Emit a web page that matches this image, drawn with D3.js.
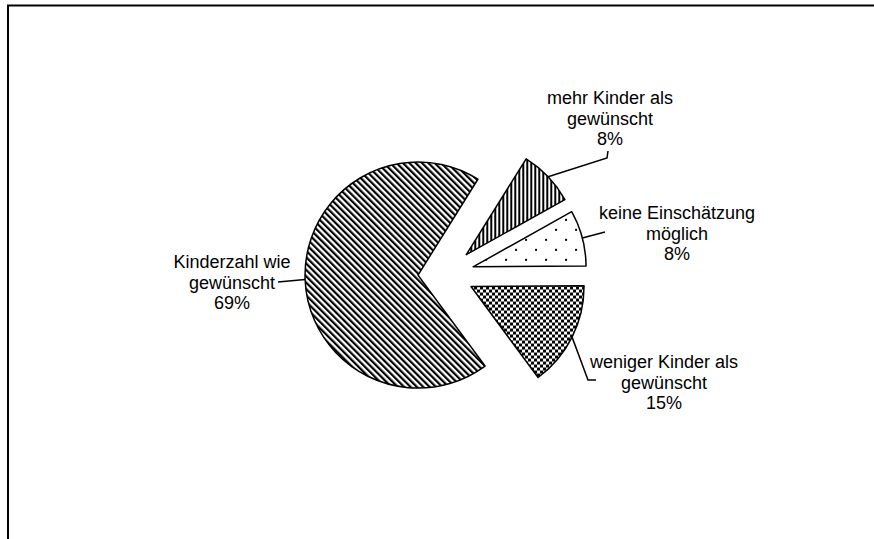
<!DOCTYPE html>
<html>
<head>
<meta charset="utf-8">
<script src="https://cdn.jsdelivr.net/npm/d3@7"></script>
<style>
  body { margin: 0; background: #fff; }
  text { font-family: "Liberation Sans", Arial, sans-serif; font-size: 18px; fill: #000; }
</style>
</head>
<body>
<svg id="chart" width="874" height="539"></svg>
<script>
/* Data */
const categories = ["mehr Kinder als gewünscht", "keine Einschätzung möglich", "weniger Kinder als gewünscht", "Kinderzahl wie gewünscht"];
const labelLines = [
  ["mehr Kinder als", "gewünscht", "8%"],
  ["keine Einschätzung", "möglich", "8%"],
  ["weniger Kinder als", "gewünscht", "15%"],
  ["Kinderzahl wie", "gewünscht", "69%"]
];
const shares = [8, 8, 15, 69];

/* Layout (label anchors and leader bends, in page pixels) */
const labelPos = [
  { x: 610, y: 104, leader: [[607, 158], [608, 151]] },
  { x: 677, y: 219, leader: [[605, 232]] },
  { x: 664, y: 368, leader: [[588, 380], [596, 380]] },
  { x: 232, y: 268, leader: [[278, 282]] }
];
const patternIds = ["vstripe", "dots", "checker", "diag"];

const svg = d3.select("#chart");

/* Frame */
svg.append("rect")
    .attr("x", 8).attr("y", 5.5)
    .attr("width", 900).attr("height", 600)
    .attr("fill", "none")
    .attr("stroke", "#000")
    .attr("stroke-width", 2);

/* Fill patterns */
const defs = svg.append("defs");

const vs = defs.append("pattern").attr("id", "vstripe")
    .attr("patternUnits", "userSpaceOnUse").attr("width", 4).attr("height", 4);
vs.append("rect").attr("width", 4).attr("height", 4).attr("fill", "#fff");
vs.append("rect").attr("width", 2).attr("height", 4).attr("fill", "#000");

const dots = defs.append("pattern").attr("id", "dots")
    .attr("patternUnits", "userSpaceOnUse").attr("width", 20).attr("height", 20);
dots.append("rect").attr("width", 20).attr("height", 20).attr("fill", "#fff");
dots.append("rect").attr("x", 2).attr("y", 2).attr("width", 2).attr("height", 2).attr("fill", "#000");
dots.append("rect").attr("x", 12).attr("y", 12).attr("width", 2).attr("height", 2).attr("fill", "#000");

const ck = defs.append("pattern").attr("id", "checker")
    .attr("patternUnits", "userSpaceOnUse").attr("width", 6).attr("height", 6);
ck.append("rect").attr("width", 6).attr("height", 6).attr("fill", "#000");
ck.append("rect").attr("width", 3).attr("height", 3).attr("fill", "#fff");
ck.append("rect").attr("x", 3).attr("y", 3).attr("width", 3).attr("height", 3).attr("fill", "#fff");

const dg = defs.append("pattern").attr("id", "diag")
    .attr("patternUnits", "userSpaceOnUse").attr("width", 4.5).attr("height", 4.5)
    .attr("patternTransform", "rotate(-45)");
dg.append("rect").attr("width", 4.5).attr("height", 4.5).attr("fill", "#fff");
dg.append("rect").attr("width", 2.2).attr("height", 4.5).attr("fill", "#000");

/* Pie */
const cx = 446, cy = 274, radius = 113, explode = 28;

const pie = d3.pie()
    .sort(null)
    .value(d => d)
    .startAngle(32 * Math.PI / 180)
    .endAngle(32 * Math.PI / 180 + 2 * Math.PI);

const arc = d3.arc().innerRadius(0).outerRadius(radius);
const arcs = pie(shares);

const g = svg.append("g").attr("transform", `translate(${cx},${cy})`);

function offset(d) {
  const a = (d.startAngle + d.endAngle) / 2;
  return [explode * Math.sin(a), -explode * Math.cos(a)];
}

g.selectAll("path.slice")
  .data(arcs)
  .join("path")
    .attr("class", "slice")
    .attr("transform", d => `translate(${offset(d)})`)
    .attr("d", arc)
    .attr("fill", (d, i) => `url(#${patternIds[i]})`)
    .attr("stroke", "#000")
    .attr("stroke-width", 1.5)
    .attr("stroke-linejoin", "round");

/* Leader lines */
arcs.forEach((d, i) => {
  const a = (d.startAngle + d.endAngle) / 2;
  const o = offset(d);
  const start = [cx + o[0] + radius * Math.sin(a), cy + o[1] - radius * Math.cos(a)];
  const pts = [start, ...labelPos[i].leader];
  svg.append("path")
    .attr("d", d3.line()(pts))
    .attr("fill", "none")
    .attr("stroke", "#000")
    .attr("stroke-width", 1.5);
});

/* Labels */
labelLines.forEach((lines, i) => {
  const t = svg.append("text")
    .attr("text-anchor", "middle")
    .attr("x", labelPos[i].x)
    .attr("y", labelPos[i].y);
  lines.forEach((s, j) => {
    t.append("tspan")
      .attr("x", labelPos[i].x)
      .attr("dy", j === 0 ? 0 : 20.5)
      .text(s);
  });
});
</script>
</body>
</html>
